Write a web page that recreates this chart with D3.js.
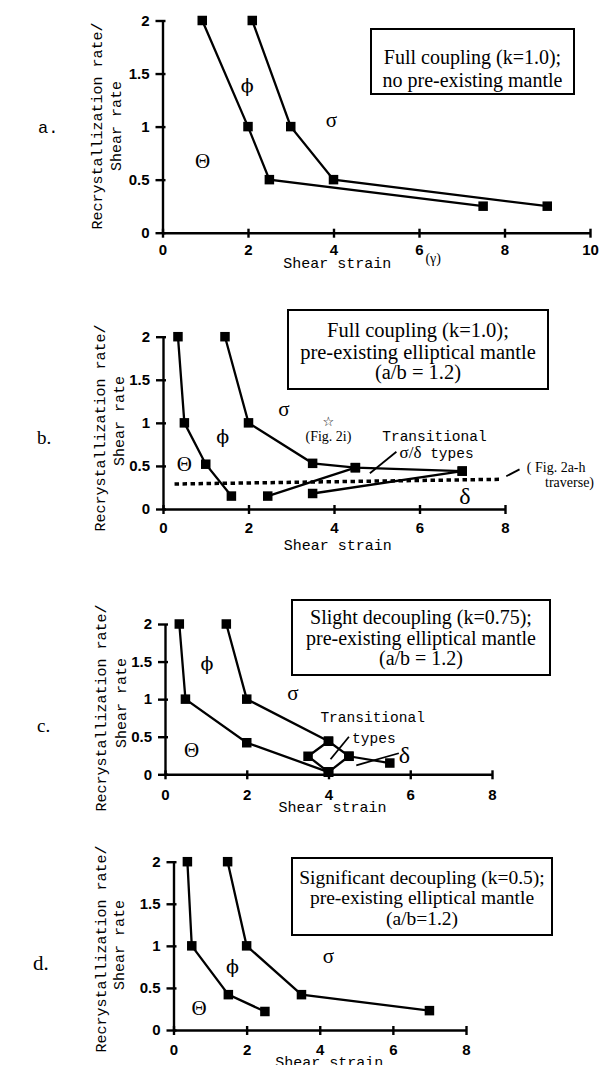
<!DOCTYPE html>
<html>
<head>
<meta charset="utf-8">
<script src="https://cdn.jsdelivr.net/npm/d3@7"></script>
<style>
  body { margin: 0; background: #fff; }
  svg { display: block; }
  .axis path, .axis line { stroke: #000; stroke-width: 2.4px; }
  .axis text { font-family: "Liberation Sans", Arial, sans-serif; font-size: 15px; font-weight: bold; fill: #000; }
  .mono { font-family: "Liberation Mono", "Courier New", monospace; }
  .serif { font-family: "Liberation Serif", "Times New Roman", serif; }
  .phi { font-family: "DejaVu Serif", serif; }
</style>
</head>
<body>
<div class="chart"></div>
<script>
// panel letters and box captions
var panelNames = ["a.", "b.", "c.", "d."];
var boxTexts = [
  ["Full coupling (k=1.0);", "no pre-existing mantle"],
  ["Full coupling (k=1.0);", "pre-existing elliptical mantle", "(a/b = 1.2)"],
  ["Slight decoupling (k=0.75);", "pre-existing elliptical mantle", "(a/b = 1.2)"],
  ["Significant decoupling (k=0.5);", "pre-existing elliptical mantle", "(a/b=1.2)"]
];
var xMaxes = [10, 8, 8, 8];
var xTicks = [[0, 2, 4, 6, 8, 10], [0, 2, 4, 6, 8], [0, 2, 4, 6, 8], [0, 2, 4, 6, 8]];
var yTicks = [0, 0.5, 1, 1.5, 2];

// boundary curves (shear strain, recrystallization rate / shear rate)
var aLeft = [[0.93, 2], [2, 1], [2.5, 0.5], [7.5, 0.25]];
var aRight = [[2.1, 2], [3, 1], [4, 0.5], [9, 0.25]];

var bLeft = [[0.35, 2], [0.5, 1], [1, 0.52], [1.6, 0.15]];
var bRight = [[1.45, 2], [2, 1], [3.5, 0.53], [4.5, 0.48], [7, 0.44]];
var bTrans = [[2.45, 0.15], [4.5, 0.48]];
var bLow = [[3.5, 0.18], [7, 0.44]];
var bTraverse = [[0.27, 0.29], [7.93, 0.345]];

var cLeft = [[0.35, 2], [0.5, 1], [2, 0.42], [4, 0.03]];
var cRight = [[1.5, 2], [2, 1], [4, 0.44], [4.5, 0.24], [5.5, 0.15]];
var cTrans = [[4, 0.03], [3.5, 0.24], [4, 0.44]];
var cTrans2 = [[4, 0.03], [4.5, 0.24]];

var dLeft = [[0.38, 2], [0.5, 1], [1.5, 0.42], [2.5, 0.22]];
var dRight = [[1.48, 2], [2, 1], [3.5, 0.42], [7, 0.23]];

var panelLines = [
  [aLeft, aRight],
  [bLeft, bRight, bTrans, bLow],
  [cLeft, cRight, cTrans, cTrans2],
  [dLeft, dRight]
];

// field labels [symbol, x, y]
var fieldLabels = [
  [["\u03D5", 1.98, 1.39], ["\u03C3", 3.95, 1.07], ["\u0398", 0.94, 0.68]],
  [["\u03C3", 2.83, 1.17], ["\u03D5", 1.4, 0.84], ["\u0398", 0.5, 0.53], ["\u03B4", 7.06, 0.16]],
  [["\u03D5", 1.03, 1.48], ["\u03C3", 3.13, 1.08], ["\u0398", 0.65, 0.33], ["\u03B4", 5.86, 0.26]],
  [["\u03D5", 1.61, 0.76], ["\u03C3", 4.24, 0.88], ["\u0398", 0.7, 0.27]]
];

var W = 605, H = 1065;
var svg = d3.select(".chart").append("svg")
  .attr("width", W).attr("height", H);

// pixel frame of each panel
var frames = [
  {x0: 162.5, x1: 590, y0: 232.7, y1: 20.5, pad: 7, box: [371, 29, 203, 65], fs: 20, lines: [57, 80],
   letter: [38, 127], ylab: [97, 116], ylabY: [126, 126], title: [4.09, 263]},
  {x0: 163, x1: 505, y0: 509, y1: 336.7, pad: 8.5, box: [288, 310, 260, 79], fs: 20.5, lines: [330, 351.5, 372],
   letter: [37, 437], ylab: [100, 119], ylabY: [428, 421], title: [4.09, 545]},
  {x0: 165, x1: 492, y0: 774.3, y1: 624, pad: 10, box: [292, 600, 258, 75], fs: 20, lines: [617, 637.5, 658],
   letter: [37, 725], ylab: [101, 121], ylabY: [708, 703], title: [4.1, 806.5]},
  {x0: 173.5, x1: 466, y0: 1030, y1: 861.7, pad: 9.5, box: [292, 858, 260, 77], fs: 19.5, lines: [877, 897.5, 918],
   letter: [33, 963], ylab: [101, 119], ylabY: [949, 945], title: [4.26, 1061.5]}
];

function drawPanel(i) {
  var f = frames[i];
  var g = svg.append("g");
  var x = d3.scaleLinear().domain([0, xMaxes[i]]).range([f.x0, f.x1]);
  var y = d3.scaleLinear().domain([0, 2]).range([f.y0, f.y1]);

  var xAxis = g.append("g").attr("class", "axis")
    .attr("transform", "translate(0," + f.y0 + ")")
    .call(d3.axisBottom(x).tickValues(xTicks[i]).tickSize(5).tickSizeOuter(0).tickPadding(f.pad));
  xAxis.selectAll(".tick line").attr("y1", -4);

  var yAxis = g.append("g").attr("class", "axis")
    .attr("transform", "translate(" + f.x0 + ",0)")
    .call(d3.axisLeft(y).tickValues(yTicks).tickSize(7).tickSizeOuter(0).tickPadding(6)
      .tickFormat(function (d) { return d; }));
  yAxis.selectAll(".tick line").attr("x1", 3);

  var line = d3.line().x(function (d) { return x(d[0]); }).y(function (d) { return y(d[1]); });

  if (i === 1) {
    g.append("path").attr("d", line(bTraverse))
      .attr("fill", "none").attr("stroke", "#000")
      .attr("stroke-width", 3.5).attr("stroke-dasharray", "4.5,3.5");
  }

  panelLines[i].forEach(function (s) {
    g.append("path").attr("d", line(s))
      .attr("fill", "none").attr("stroke", "#000").attr("stroke-width", 2.3);
    g.selectAll(null).data(s).enter().append("rect")
      .attr("x", function (d) { return x(d[0]) - 4.75; })
      .attr("y", function (d) { return y(d[1]) - 4.75; })
      .attr("width", 9.5).attr("height", 9.5).attr("fill", "#000");
  });

  fieldLabels[i].forEach(function (l) {
    var isPhi = l[0] === "\u03D5";
    g.append("text").attr("class", isPhi ? "phi" : "serif")
      .attr("x", x(l[1])).attr("y", y(l[2]))
      .attr("text-anchor", "middle").attr("dy", "0.35em").attr("fill", "#000")
      .style("font-size", l[0] === "\u03B4" ? "24px" : (isPhi ? "19px" : "21px"))
      .text(l[0]);
  });

  // caption box
  var b = f.box;
  g.append("rect").attr("x", b[0]).attr("y", b[1]).attr("width", b[2]).attr("height", b[3])
    .attr("fill", "#fff").attr("stroke", "#000").attr("stroke-width", 2);
  boxTexts[i].forEach(function (t, k) {
    g.append("text").attr("class", "serif")
      .attr("x", b[0] + b[2] / 2)
      .attr("y", f.lines[k])
      .attr("dy", "0.35em").attr("text-anchor", "middle")
      .style("font-size", f.fs + "px")
      .text(t);
  });

  // axis titles
  g.append("text").attr("class", "mono")
    .attr("transform", "translate(" + f.ylab[0] + "," + f.ylabY[0] + ") rotate(-90)")
    .attr("text-anchor", "middle").attr("dy", "0.35em")
    .style("font-size", "15px").text("Recrystallization rate/");
  g.append("text").attr("class", "mono")
    .attr("transform", "translate(" + f.ylab[1] + "," + f.ylabY[1] + ") rotate(-90)")
    .attr("text-anchor", "middle").attr("dy", "0.35em")
    .style("font-size", "15px").text("Shear rate");

  g.append("text").attr("class", "mono")
    .attr("x", x(f.title[0])).attr("y", f.title[1])
    .attr("text-anchor", "middle").attr("dy", "0.35em").style("font-size", "15px")
    .text("Shear strain");
  if (i === 0) {
    g.append("text").attr("class", "serif")
      .attr("x", x(6.15)).attr("y", 258)
      .attr("dy", "0.35em").style("font-size", "14px").text("(\u03B3)");
  }

  g.append("text").attr("class", i === 0 ? "mono" : "serif")
    .attr("x", f.letter[0]).attr("y", f.letter[1])
    .attr("dy", "0.35em").style("font-size", i === 0 ? "17px" : (i === 3 ? "21px" : "19px"))
    .text(panelNames[i]);

  return {x: x, y: y, g: g};
}

var pa = drawPanel(0);
var pb = drawPanel(1);
var pc = drawPanel(2);
var pd = drawPanel(3);

function leader(p, x1, y1, x2, y2) {
  p.g.append("line").attr("x1", p.x(x1)).attr("y1", p.y(y1)).attr("x2", p.x(x2)).attr("y2", p.y(y2))
    .attr("stroke", "#000").attr("stroke-width", 1.8);
}

// panel b annotations
pb.g.append("text").attr("x", pb.x(3.87)).attr("y", pb.y(1.02))
  .attr("text-anchor", "middle").attr("dy", "0.35em").attr("fill", "#000")
  .style("font-family", "'DejaVu Sans', sans-serif").style("font-size", "13px").text("\u2606");
pb.g.append("text").attr("class", "serif").attr("x", pb.x(3.87)).attr("y", pb.y(0.85))
  .attr("text-anchor", "middle").attr("dy", "0.35em").style("font-size", "14px").text("(Fig. 2i)");
pb.g.append("text").attr("class", "mono").attr("x", pb.x(6.35)).attr("y", pb.y(0.85))
  .attr("text-anchor", "middle").attr("dy", "0.35em").style("font-size", "14.5px").text("Transitional");
pb.g.append("text").attr("x", pb.x(6.4)).attr("y", pb.y(0.66))
  .attr("text-anchor", "middle").attr("dy", "0.35em")
  .html('<tspan class="serif" style="font-size:17px">\u03C3/\u03B4</tspan><tspan class="mono" style="font-size:14.5px"> types</tspan>');
leader(pb, 5.46, 0.665, 4.84, 0.415);
leader(pb, 8.03, 0.38, 8.34, 0.46);
pb.g.append("text").attr("class", "serif").attr("x", pb.x(8.3) + 9).attr("y", 467.5)
  .attr("dy", "0.35em").style("font-size", "14px").text("( Fig. 2a-h");
pb.g.append("text").attr("class", "serif").attr("x", pb.x(8.75) + 8).attr("y", 482)
  .attr("dy", "0.35em").style("font-size", "14px").text("traverse)");

// panel c annotations
pc.g.append("text").attr("class", "mono").attr("x", pc.x(5.08)).attr("y", pc.y(0.77))
  .attr("text-anchor", "middle").attr("dy", "0.35em").style("font-size", "14.5px").text("Transitional");
pc.g.append("text").attr("class", "mono").attr("x", pc.x(5.11)).attr("y", pc.y(0.49))
  .attr("text-anchor", "middle").attr("dy", "0.35em").style("font-size", "14.5px").text("types");
leader(pc, 4.5, 0.5, 4.05, 0.2);
leader(pc, 5.72, 0.28, 4.68, 0.12);
</script>
</body>
</html>
